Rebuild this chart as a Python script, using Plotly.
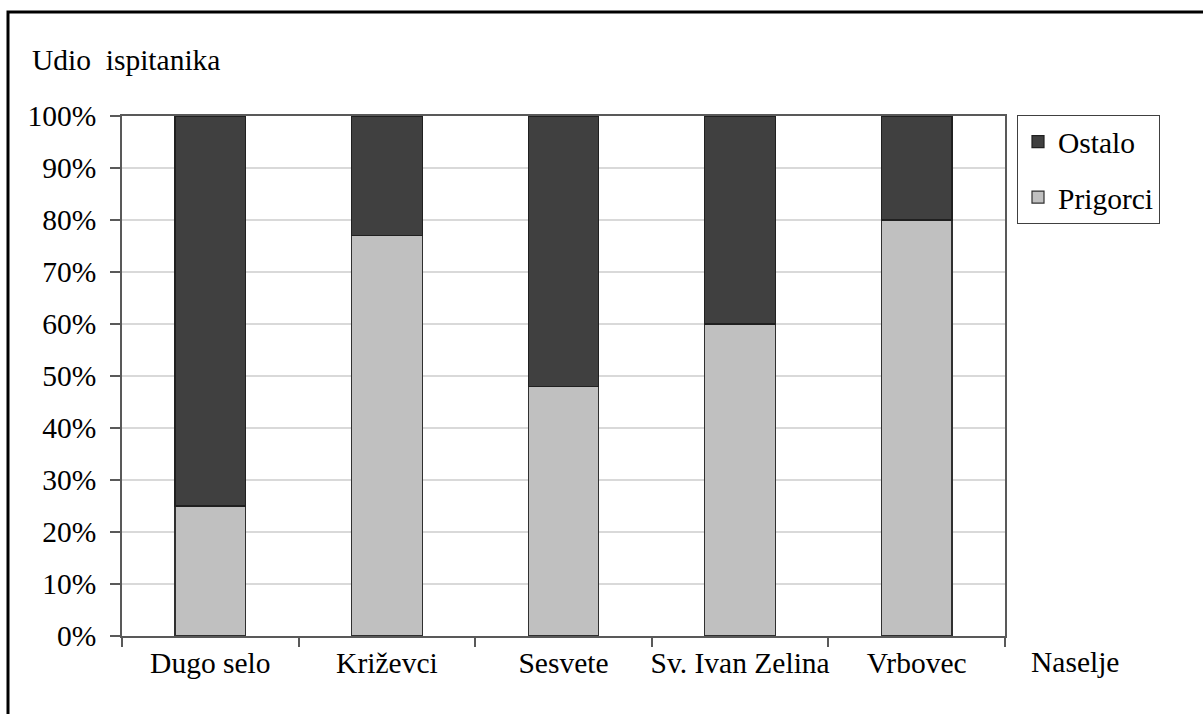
import plotly.graph_objects as go

categories = ["Dugo selo", "Križevci", "Sesvete", "Sv. Ivan Zelina", "Vrbovec"]
prigorci = [25, 77, 48, 60, 80]
ostalo = [75, 23, 52, 40, 20]
tick_vals = [0, 10, 20, 30, 40, 50, 60, 70, 80, 90, 100]
tick_text = [f"{v}%" for v in tick_vals]

W, H = 1203, 714
L, R, T, B = 122, 1005, 116, 636
pw, ph = R - L, B - T

def px(x):
    return (x - L) / pw

def py(y):
    return (B - y) / ph

FONT = "Liberation Serif, Times New Roman, serif"
FS = 29.5

fig = go.Figure()
fig.add_trace(go.Bar(x=categories, y=prigorci, name="Prigorci", legendgroup="p", legendrank=2,
                     marker=dict(color="#c0c0c0", line=dict(color="#303030", width=1.2))))
fig.add_trace(go.Bar(x=categories, y=ostalo, name="Ostalo", legendgroup="o", legendrank=1,
                     marker=dict(color="#404040", line=dict(color="#202020", width=1.2))))

fig.update_layout(
    width=W, height=H,
    margin=dict(l=L, r=W - R, t=T, b=H - B, autoexpand=False),
    barmode="stack", bargap=0.6,
    plot_bgcolor="white", paper_bgcolor="white",
    font=dict(family=FONT, size=FS, color="black"),
    showlegend=True,
    legend=dict(x=px(1017), y=py(115), xanchor="left", yanchor="top",
                bordercolor="#404040", borderwidth=1, bgcolor="white",
                traceorder="grouped", font=dict(family=FONT, size=FS),
                itemwidth=30, tracegroupgap=14),
    xaxis=dict(type="category", showline=True, linecolor="#595959", linewidth=1.5,
               mirror=True, ticks="outside", tickson="boundaries", ticklen=9,
               tickcolor="#595959", tickwidth=1.5, showgrid=False, tickangle=0,
               tickfont=dict(family=FONT, size=FS)),
    yaxis=dict(range=[0, 100], tickvals=tick_vals, ticktext=tick_text,
               showline=True, linecolor="#595959", linewidth=1.5, mirror=True,
               ticks="outside", ticklen=10, tickcolor="#595959", tickwidth=1.5,
               showgrid=True, gridcolor="#d9d9d9", gridwidth=2,
               ticklabelstandoff=8, zeroline=False,
               tickfont=dict(family=FONT, size=FS)),
    annotations=[
        dict(text="Udio  ispitanika", x=px(30), y=py(60), xref="paper", yref="paper",
             xanchor="left", yanchor="middle", showarrow=False,
             font=dict(family=FONT, size=FS)),
        dict(text="Naselje", x=px(1029), y=py(662), xref="paper", yref="paper",
             xanchor="left", yanchor="middle", showarrow=False,
             font=dict(family=FONT, size=FS)),
    ],
    shapes=[
        dict(type="rect", xref="paper", yref="paper",
             x0=px(8), x1=px(1215), y0=py(725), y1=py(12),
             line=dict(color="black", width=3), layer="above"),
    ],
)

fig.write_html("out.html", config={"displayModeBar": False},
               post_script="document.body.style.margin='0';document.body.style.overflow='hidden';")
